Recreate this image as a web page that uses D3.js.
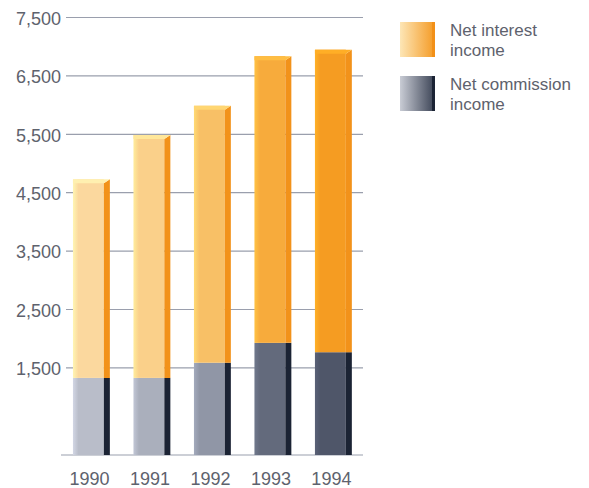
<!DOCTYPE html>
<html>
<head>
<meta charset="utf-8">
<script src="https://cdn.jsdelivr.net/npm/d3@7"></script>
<style>
  html, body { margin: 0; padding: 0; background: #ffffff; }
  svg { display: block; font-family: "Liberation Sans", Arial, sans-serif; }
</style>
</head>
<body>
<svg id="chart" width="589" height="488"></svg>
<script>
// Income components by year (stacked)
const years = ["1990", "1991", "1992", "1993", "1994"];
const commission = [1320, 1320, 1580, 1920, 1760];
const interest = [3400, 4160, 4400, 4910, 5180];
const yTicks = [1500, 2500, 3500, 4500, 5500, 6500, 7500];

// Face shades darken year by year
const interestFront = ["#fbd89e", "#fad08a", "#f8c066", "#f7ab3c", "#f59c22"];
const commissionFront = ["#b9bdc9", "#aaafbc", "#9096a6", "#636a7c", "#4f5669"];
const interestSide = "#f2921a";
const commissionSide = "#1b2334";

const textColor = "#5e626d";
const fontSize = 18;
const legendFontSize = 17;

const svg = d3.select("#chart");
const defs = svg.append("defs");

const y = d3.scaleLinear().domain([0, 7500]).range([455, 17]);
const x = d3.scaleBand().domain(years).range([65.7, 359.1])
  .paddingInner(0.39).paddingOuter(0.12);
const sideW = 6, bevel = 4;

// Gridlines and tick labels
const yAxis = svg.append("g")
  .attr("transform", "translate(66,0)")
  .call(d3.axisLeft(y).tickValues(yTicks).tickFormat(d3.format(",")).tickSize(-297).tickPadding(5));
yAxis.select(".domain").remove();
yAxis.selectAll(".tick line").attr("stroke", "#9a9fad").attr("stroke-width", 1.2);
yAxis.selectAll(".tick text").attr("fill", textColor).attr("font-size", fontSize).attr("dy", "0.4em");

// Baseline
svg.append("line")
  .attr("x1", 61).attr("x2", 363)
  .attr("y1", y(0)).attr("y2", y(0))
  .attr("stroke", "#9a9fad").attr("stroke-width", 1.2);

// Front-face gradients: lighter left edge
function frontGradient(id, color) {
  const g = defs.append("linearGradient").attr("id", id)
    .attr("x1", "0%").attr("x2", "100%").attr("y1", "0%").attr("y2", "0%");
  g.append("stop").attr("offset", "0%").attr("stop-color", d3.color(color).brighter(0.35));
  g.append("stop").attr("offset", "18%").attr("stop-color", color);
  g.append("stop").attr("offset", "100%").attr("stop-color", color);
}
years.forEach((yr, i) => {
  frontGradient("gi" + i, interestFront[i]);
  frontGradient("gc" + i, commissionFront[i]);
});

// Stacked 3D-style bars
const stackRows = years.map((yr, i) => ({ year: yr, commission: commission[i], interest: interest[i], i }));
const series = d3.stack().keys(["commission", "interest"])(stackRows);

const bars = svg.append("g");
series.forEach(s => {
  s.forEach(d => {
    const i = d.data.i;
    const x0 = x(d.data.year);
    const xs = x0 + x.bandwidth();
    const xf = xs - sideW;
    const top = y(d[1]), base = y(d[0]);
    const isInterest = s.key === "interest";
    const sideColor = isInterest ? interestSide : commissionSide;
    bars.append("rect")
      .attr("x", x0).attr("y", top)
      .attr("width", xf - x0).attr("height", base - top)
      .attr("fill", `url(#${isInterest ? "gi" : "gc"}${i})`);
    if (isInterest) {
      bars.append("polygon")
        .attr("points", [[xf, top + bevel], [xs, top], [xs, base], [xf, base]].map(p => p.join(",")).join(" "))
        .attr("fill", sideColor);
      bars.append("polygon")
        .attr("points", [[x0, top], [xs, top], [xf, top + bevel], [x0, top + bevel]].map(p => p.join(",")).join(" "))
        .attr("fill", d3.color(interestFront[i]).brighter(0.3));
    } else {
      bars.append("rect")
        .attr("x", xf).attr("y", top)
        .attr("width", sideW).attr("height", base - top)
        .attr("fill", sideColor);
    }
  });
});

// Year labels
const xAxis = svg.append("g")
  .attr("transform", `translate(${-2},${y(0)})`)
  .call(d3.axisBottom(x).tickSize(0).tickPadding(17));
xAxis.select(".domain").remove();
xAxis.selectAll(".tick text").attr("fill", textColor).attr("font-size", fontSize);

// Legend
const legendItems = [
  { lines: ["Net interest", "income"], from: "#fde6b6", to: "#f49a24", edge: "#f29018" },
  { lines: ["Net commission", "income"], from: "#c9ccd5", to: "#3a4254", edge: "#1b2334" }
];
const legend = svg.append("g");
legendItems.forEach((item, k) => {
  const gy = 22 + k * 54;
  const gid = "lg" + k;
  const g = defs.append("linearGradient").attr("id", gid)
    .attr("x1", "0%").attr("x2", "100%").attr("y1", "0%").attr("y2", "0%");
  g.append("stop").attr("offset", "0%").attr("stop-color", item.from);
  g.append("stop").attr("offset", "100%").attr("stop-color", item.to);
  legend.append("rect").attr("x", 400).attr("y", gy).attr("width", 35).attr("height", 35)
    .attr("fill", `url(#${gid})`);
  legend.append("rect").attr("x", 432).attr("y", gy).attr("width", 3).attr("height", 35)
    .attr("fill", item.edge);
  item.lines.forEach((t, j) => {
    legend.append("text")
      .attr("x", 450).attr("y", gy + 14 + j * 19.6)
      .attr("fill", textColor).attr("font-size", legendFontSize)
      .text(t);
  });
});
</script>
</body>
</html>
